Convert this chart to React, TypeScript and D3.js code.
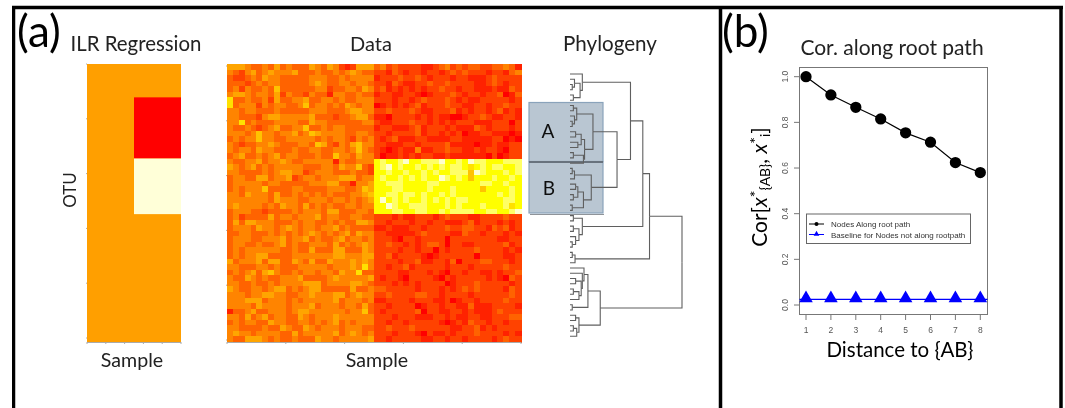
import * as d3 from 'd3';

// heat levels per cell: 0 = red ... 8 = yellow, a = near white
const heatLeftRows = [
  '55543 34353 43335 43542 12555',
  '43245 34544 45333 43343 45433',
  '32234 35443 33334 44334 34444',
  '33323 43443 33334 54334 43443',
  '34243 34363 33333 44233 44354',
  '45543 44352 43324 33144 33433',
  '73343 34253 34453 34434 33444',
  '73444 24344 33463 44343 54344',
  '44344 33343 33334 44333 45544',
  '44333 24554 44445 33323 34553',
  '44734 33344 44335 44333 33344',
  '43343 23453 34463 34344 33333',
  '44434 64434 45346 54444 33443',
  '34344 64433 44444 34344 32434',
  '43233 44543 33443 65324 35644',
  '43443 54433 34334 43344 34643',
  '34533 43453 44333 43364 43544',
  '43344 53445 43344 44414 33444',
  '54345 34344 44433 34435 44632',
  '44333 34345 54423 44433 34332',
  '34433 55344 52344 34445 55344',
  '34444 43443 33334 44553 31445',
  '34344 46333 34433 33444 33465',
  '44354 44353 34343 43433 34456',
  '44444 44354 44334 44344 34345',
  '45444 43435 44353 43433 44344',
  '34443 32333 34344 43553 33443',
  '34233 33534 43444 53443 34433',
  '35355 44433 34344 33434 33554',
  '34443 54434 54344 34453 43333',
  '33443 33434 34345 43434 53544',
  '34443 34445 34453 43345 34434',
  '34433 43345 34334 44353 43454',
  '34344 44443 34335 33355 33354',
  '34344 55333 34444 44455 44455',
  '53444 53553 35435 33544 45454',
  '44333 44343 33444 44344 45474',
  '34345 35643 34344 34435 44733',
  '43354 34334 44533 33454 44445',
  '44334 33434 44455 53444 45543',
  '54334 43455 34345 53333 35334',
  '44434 45544 33445 44455 34544',
  '44455 53444 34344 44453 44434',
  '44443 54444 34445 34443 44353',
  '13345 33444 34554 44444 34463',
  '44353 45344 33543 44454 44444',
  '34344 33544 33443 43453 43444',
  '44333 34335 43354 34443 44433',
  '45443 44443 35344 44453 45434',
  '43355 54343 34333 54434 44445',
];

const heatRightRows = [
  '34232 22211 23423 23322 33431',
  '22132 12212 21232 32221 22134',
  '12223 22321 22212 21112 32222',
  '22132 11223 22322 22112 32122',
  '23121 21212 23221 22111 21132',
  '12211 22101 22232 12212 23013',
  '22212 21232 22321 21122 22212',
  '01212 12312 22322 11221 22322',
  '22322 23211 22231 21221 23121',
  '11022 22121 21100 12232 11221',
  '21122 23221 21212 22111 22202',
  '12211 12312 22121 11321 22212',
  '22122 22312 21212 01122 11101',
  '21231 11221 11122 11111 22010',
  '22111 22122 22311 11011 21122',
  '21012 11411 22322 11212 21022',
  '20112 12122 11211 11110 20122',
  '89889 a8899 9a889 8a998 88999',
  '89a89 88989 89899 87898 99889',
  '88988 98898 98899 96a98 88989',
  '89889 89898 8a989 86888 98898',
  '88999 88889 98888 88899 88988',
  '88899 88889 88898 88868 88898',
  '88998 99898 89898 88888 89898',
  '8a898 98898 98989 98888 88998',
  '88a98 89998 88989 88898 88978',
  '88899 88998 89899 99889 9889a',
  '22212 11222 12322 21122 22322',
  '22122 21221 22111 23122 21212',
  '11211 12212 22322 33221 32312',
  '22111 11232 22211 32212 22121',
  '22210 22122 22022 22222 21122',
  '22322 12123 32022 11222 22312',
  '22221 22122 02122 22322 22121',
  '22312 22210 12222 22022 22112',
  '22221 22311 22130 22233 22212',
  '22122 31222 22122 21222 22322',
  '22221 12221 21022 12211 21223',
  '21221 02222 10212 22221 21032',
  '22212 12122 22012 22322 22212',
  '33222 22122 21212 32322 22132',
  '22322 22332 21222 21222 22232',
  '11222 21222 11201 22122 22322',
  '22122 22012 21221 13111 22221',
  '21222 22302 21122 12111 23222',
  '22212 22111 22121 12211 22233',
  '22122 12222 21012 13221 22122',
  '22322 23222 22211 22312 12222',
  '22212 22102 11212 22322 22121',
  '22122 22211 22122 12222 12322',
];

const heatRows = heatLeftRows.map((row, i) => (row + heatRightRows[i]).replace(/ /g, ''));

// ilr regression panel: one value per block of rows, right half only
const ilrBlocks = [
  { label: 'red', rows: [6, 17] },
  { label: 'cream', rows: [17, 27] },
];
const rowCount = 50;
const colCount = 50;

// phylogeny, nested by branch height (0 = tips, 1 = root)
type TreeNode = { h: number; children?: TreeNode[] };
const L = (): TreeNode => ({ h: 0 });
const n = (h: number, ...children: TreeNode[]): TreeNode => ({ h, children });

const topClade = n(0.11, L(), n(0.09, n(0.04, L(), n(0.02, L(), L())), n(0.03, L(), L())));
const cladeA = n(
  0.205,
  n(0.06, n(0.03, L(), L()), n(0.04, L(), n(0.02, L(), L()))),
  n(0.13, n(0.1, n(0.05, L(), L()), n(0.07, L(), L())), n(0.12, n(0.03, L(), L()), L())),
);
const cladeB = n(
  0.19,
  n(0.04, n(0.02, L(), L()), L()),
  n(0.12, n(0.07, n(0.05, L(), L()), n(0.03, L(), L())), n(0.02, L(), L())),
);
const cladeC = n(0.11, n(0.03, L(), L()), n(0.08, n(0.03, L(), L()), n(0.05, L(), n(0.02, L(), L()))));
const cladeD = n(0.045, n(0.02, L(), L()), L());
const cladeE = n(
  0.27,
  n(0.16, n(0.125, L(), n(0.11, L(), n(0.1, n(0.05, L(), L()), n(0.08, n(0.03, L(), L()), L())))), n(0.02, L(), L())),
  n(0.08, n(0.05, L(), L()), n(0.06, n(0.03, L(), L()), L())),
);
const treeRoot = n(1, n(0.71, n(0.65, n(0.54, topClade, n(0.42, cladeA, cladeB)), cladeC), cladeD), cladeE);

// panel b
const distances = [1, 2, 3, 4, 5, 6, 7, 8];
const rootPathCor = [1.0, 0.92, 0.866, 0.815, 0.754, 0.713, 0.624, 0.58];
const baselineCor = [0.025, 0.025, 0.025, 0.025, 0.025, 0.025, 0.025, 0.025];
const yTicks = [0, 0.2, 0.4, 0.6, 0.8, 1];
const axisFractions = [0, 0.2, 0.4, 0.6, 0.8, 1];

const sans = 'Lato, "Open Sans", sans-serif';
const arial = '"Liberation Sans", Arial, sans-serif';

const heatColor = d3
  .scaleLinear<string>()
  .domain([0, 5, 8, 10])
  .range(['#ff0000', '#ffa500', '#ffff00', '#ffffcc']);

const rowY = d3.scaleBand<number>().domain(d3.range(rowCount)).range([64, 342]);
const heatX = d3.scaleBand<number>().domain(d3.range(colCount)).range([227, 521]);
const ilrX = d3.scaleLinear().domain([0, 1]).range([87, 181]);

const treeX = d3.scaleLinear().domain([0, 1]).range([570, 682]);
const treeY = d3.scaleLinear().domain([0, rowCount - 1]).range([74, 331]);

const corX = d3.scaleLinear().domain([1, 8]).range([806, 980.3]);
const corY = d3.scaleLinear().domain([0, 1]).range([305, 76.7]);

function treeLinks() {
  const root = d3.hierarchy(treeRoot);
  const ys = new Map<any, number>();
  root.leaves().forEach((leaf, i) => ys.set(leaf, treeY(i)));
  root.eachAfter((node) => {
    if (node.children) {
      ys.set(node, (ys.get(node.children[0])! + ys.get(node.children[node.children.length - 1])!) / 2);
    }
  });
  return root.links().map((link) => {
    const px = treeX(link.source.data.h);
    const cx = treeX(link.target.data.h);
    return `M${px},${ys.get(link.source)}V${ys.get(link.target)}H${cx}`;
  });
}

export default function App() {
  const line = d3
    .line<number>()
    .x((d) => corX(d))
    .y((_, i) => corY(rootPathCor[i]));
  const triangle = d3.symbol(d3.symbolTriangle, 80)();
  const circle = d3.symbol(d3.symbolCircle, 100)();
  const links = treeLinks();

  return (
    <svg
      width={1065}
      height={408}
      style={{ position: 'absolute', left: 0, top: 0, background: '#fff' }}
    >
      <defs>
        <filter id="soft" x="0" y="0" width="100%" height="100%">
          <feGaussianBlur stdDeviation="0.4" />
        </filter>
      </defs>
      <g filter="url(#soft)">
        {/* frame */}
        <g stroke="#000" fill="none">
          <line x1={12} x2={1063} y1={7.5} y2={7.5} strokeWidth={3.5} />
          <line x1={13.5} x2={13.5} y1={6} y2={408} strokeWidth={3.5} />
          <line x1={720.5} x2={720.5} y1={6} y2={408} strokeWidth={3.5} />
          <line x1={1061} x2={1061} y1={6} y2={408} strokeWidth={3.5} />
        </g>

        {/* ilr regression */}
        <rect
          x={ilrX(0)}
          y={rowY(0)}
          width={ilrX(1) - ilrX(0)}
          height={rowY.range()[1] - rowY(0)!}
          fill="#ff9f00"
        />
        {ilrBlocks.map((b) => (
          <rect
            key={b.label}
            x={ilrX(0.5)}
            y={rowY(b.rows[0])}
            width={ilrX(1) - ilrX(0.5)}
            height={rowY.step() * (b.rows[1] - b.rows[0])}
            fill={b.label === 'red' ? '#ff0000' : '#ffffd8'}
          />
        ))}
        <g stroke="#aaa" strokeWidth={1}>
          <line x1={ilrX(0)} x2={ilrX(1)} y1={342.5} y2={342.5} />
          {axisFractions.map((t) => (
            <line key={t} x1={ilrX(t)} x2={ilrX(t)} y1={342} y2={344} />
          ))}
          {axisFractions.map((t) => (
            <line key={t} x1={86} x2={87} y1={rowY(0)! + (1 - t) * 274} y2={rowY(0)! + (1 - t) * 274} />
          ))}
        </g>

        {/* data heatmap */}
        <g shapeRendering="crispEdges">
          {heatRows.map((row, r) =>
            row.split('').map((level, c) => (
              <rect
                key={`${r}-${c}`}
                x={heatX(c)}
                y={rowY(r)}
                width={heatX.bandwidth() + 0.5}
                height={rowY.bandwidth() + 0.5}
                fill={heatColor(level === 'a' ? 10 : +level)}
              />
            )),
          )}
        </g>
        <g stroke="#aaa" strokeWidth={1}>
          <line x1={227} x2={521} y1={342.5} y2={342.5} />
          {axisFractions.map((t) => (
            <line key={t} x1={227 + t * 294} x2={227 + t * 294} y1={342} y2={344} />
          ))}
          {axisFractions.map((t) => (
            <line key={t} x1={226} x2={227} y1={66 + (1 - t) * 274} y2={66 + (1 - t) * 274} />
          ))}
        </g>

        {/* highlighted clades */}
        <g fill="#b9c6d2" stroke="#8aa3bb" strokeWidth={1.2}>
          <rect x={529} y={102.5} width={74} height={59} />
          <rect x={529} y={162} width={74} height={51} />
        </g>
        <line x1={529} x2={603} y1={162} y2={162} stroke="#68727d" strokeWidth={1.8} />
        <line x1={530} x2={604} y1={214.5} y2={214.5} stroke="#8f9499" strokeWidth={1.2} />

        {/* phylogeny */}
        <g fill="none" stroke="#5f5f5f" strokeWidth={1.1}>
          {links.map((d, i) => (
            <path key={i} d={d} />
          ))}
        </g>

        {/* panel b plot */}
        <rect x={799.5} y={67.5} width={188} height={247} fill="#fff" stroke="#777" />
        <g stroke="#777">
          {distances.map((d) => (
            <line key={d} x1={corX(d)} x2={corX(d)} y1={314.5} y2={320} />
          ))}
          {yTicks.map((t) => (
            <line key={t} x1={794} x2={799.5} y1={corY(t)} y2={corY(t)} />
          ))}
        </g>
        <g fontFamily={arial} fontSize={8.5} fill="#555">
          {distances.map((d) => (
            <text key={d} x={corX(d)} y={333} textAnchor="middle">
              {d}
            </text>
          ))}
          {yTicks.map((t) => (
            <text
              key={t}
              textAnchor="middle"
              transform={`translate(788,${corY(t)}) rotate(-90)`}
            >
              {t.toFixed(1)}
            </text>
          ))}
        </g>
        <line
          x1={799.5}
          x2={987.5}
          y1={corY(baselineCor[0])}
          y2={corY(baselineCor[0])}
          stroke="#0000ff"
          strokeWidth={1.2}
        />
        {distances.map((d, i) => (
          <path
            key={d}
            d={triangle!}
            transform={`translate(${corX(d)},${corY(baselineCor[i]) - 1})`}
            fill="#0000ff"
          />
        ))}
        <path d={line(distances)!} fill="none" stroke="#000" strokeWidth={1.2} />
        {distances.map((d, i) => (
          <path key={d} d={circle!} transform={`translate(${corX(d)},${corY(rootPathCor[i])})`} fill="#000" />
        ))}

        {/* legend */}
        <rect x={806.5} y={214} width={164} height={29.5} fill="#fff" stroke="#666" />
        <line x1={809} x2={824} y1={224} y2={224} stroke="#000" />
        <circle cx={816.5} cy={224} r={2} fill="#000" />
        <line x1={809} x2={824} y1={234.5} y2={234.5} stroke="#0000ff" />
        <path d={d3.symbol(d3.symbolTriangle, 14)()!} transform="translate(816.5,234)" fill="#0000ff" />
        <g fontFamily={arial} fontSize={8} fill="#333">
          <text x={831} y={227}>
            Nodes Along root path
          </text>
          <text x={831} y={238}>
            Baseline for Nodes not along rootpath
          </text>
        </g>

        {/* captions */}
        <g fontFamily={sans} fill="#222">
          <text x={17} y={47} fontSize={44} fill="#000">
            (a)
          </text>
          <text x={722} y={47} fontSize={44} fill="#000">
            (b)
          </text>
          <text x={136} y={51} fontSize={20.4} textAnchor="middle">
            ILR Regression
          </text>
          <text x={371} y={51} fontSize={20} textAnchor="middle">
            Data
          </text>
          <text x={610} y={51} fontSize={20.6} textAnchor="middle">
            Phylogeny
          </text>
          <text x={132} y={367} fontSize={19.6} textAnchor="middle">
            Sample
          </text>
          <text x={377} y={367} fontSize={19.6} textAnchor="middle">
            Sample
          </text>
          <text transform="translate(76,190) rotate(-90)" fontSize={17} textAnchor="middle">
            OTU
          </text>
          <text x={548} y={138} fontSize={19} textAnchor="middle" fill="#111">
            A
          </text>
          <text x={549} y={195} fontSize={19} textAnchor="middle" fill="#111">
            B
          </text>
          <text x={892} y={55} fontSize={21} textAnchor="middle">
            Cor. along root path
          </text>
          <text x={900} y={357} fontSize={20.5} textAnchor="middle" fill="#000">
            Distance to {'{AB}'}
          </text>
          <text transform="translate(767,187) rotate(-90)" fontSize={21} textAnchor="middle" fill="#000">
            Cor[<tspan fontStyle="italic">x</tspan>
            <tspan dy={-6} fontSize={16}>*</tspan>
            <tspan dy={9} fontSize={14}>{'{AB}'}</tspan>
            <tspan dy={-3}>, </tspan>
            <tspan fontStyle="italic">x</tspan>
            <tspan dy={-6} fontSize={16}>*</tspan>
            <tspan dy={9} fontSize={14}>i</tspan>
            <tspan dy={-3}>]</tspan>
          </text>
        </g>
      </g>
    </svg>
  );
}
